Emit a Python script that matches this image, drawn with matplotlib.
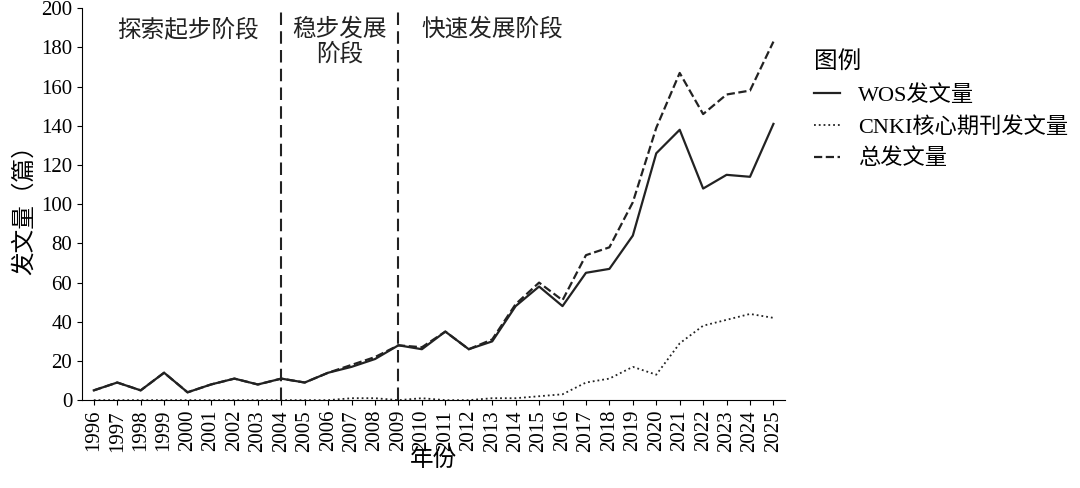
import matplotlib
matplotlib.use("Agg")
import matplotlib.pyplot as plt

plt.rcParams['font.family'] = ['Liberation Serif', 'Noto Sans CJK SC', 'DejaVu Sans']

years = list(range(1996, 2026))
wos = [5, 9, 5, 14, 4, 8, 11, 8, 11, 9, 14, 17, 21, 28, 26, 35, 26, 30, 48, 58, 48, 65, 67, 84, 126, 138, 108, 115, 114, 141]
cnki = [0, 0, 0, 0, 0, 0, 0, 0, 0, 0, 0, 1, 1, 0, 1, 0, 0, 1, 1, 2, 3, 9, 11, 17, 13, 29, 38, 41, 44, 42]
total = [5, 9, 5, 14, 4, 8, 11, 8, 11, 9, 14, 18, 22, 28, 27, 35, 26, 31, 49, 60, 51, 74, 78, 101, 139, 167, 146, 156, 158, 183]
stages = ["探索起步阶段", "稳步发展\n阶段", "快速发展阶段"]
stage_x = [2000, 2006.5, 2013]
splits = [2004, 2009]

fig = plt.figure(figsize=(10.8, 4.88), dpi=100)
ax = fig.add_axes([0.076, 0.18, 0.651, 0.803])
c = '#222222'
ax.plot(years, wos, '-', color=c, lw=1.6, label='WOS发文量')
ax.plot(years, cnki, ':', color=c, lw=1.3, label='CNKI核心期刊发文量')
ax.plot(years, total, '--', color=c, lw=1.6, label='总发文量')
for s in splits:
    ax.axvline(s, color=c, ls=(0, (6, 3)), lw=1.5)
for x, t in zip(stage_x, stages):
    ax.text(x, 195, t, ha='center', va='top', fontsize=17, color=c, linespacing=1.15)
ax.set_xlim(1995.5, 2025.5)
ax.set_ylim(0, 200)
ax.set_yticks(range(0, 201, 20))
ax.set_xticks(years)
ax.set_xticklabels([str(y) for y in years], rotation=90, fontsize=15)
ax.tick_params(axis='y', labelsize=15)
ax.spines['top'].set_visible(False)
ax.spines['right'].set_visible(False)
ax.set_xlabel('年份', fontsize=17, labelpad=-2)
ax.set_ylabel('发文量（篇）', fontsize=17)
leg = fig.legend(loc='upper left', bbox_to_anchor=(0.735, 0.935), frameon=False, title='图例',
                 fontsize=16, title_fontsize=17, handlelength=1.2, alignment='left')
fig.savefig('out.png', dpi=100)
